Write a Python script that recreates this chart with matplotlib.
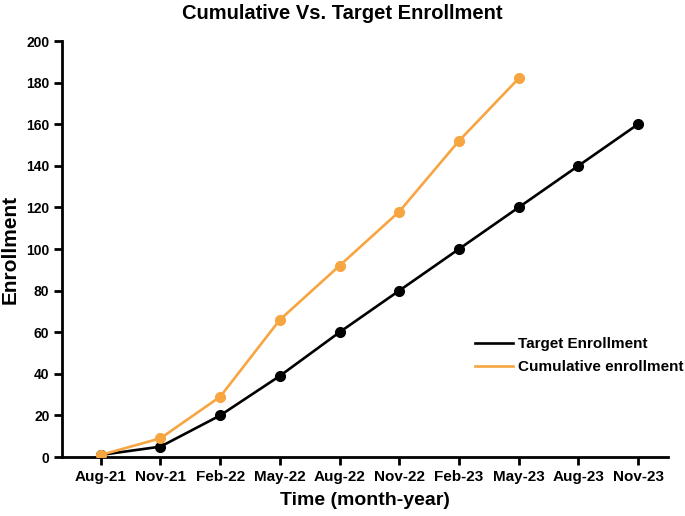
import matplotlib.pyplot as plt

plt.rcParams['font.family'] = ['Liberation Sans', 'DejaVu Sans']
plt.rcParams['font.weight'] = 'bold'

months = ['Aug-21', 'Nov-21', 'Feb-22', 'May-22', 'Aug-22',
          'Nov-22', 'Feb-23', 'May-23', 'Aug-23', 'Nov-23']
target = [1, 5, 20, 39, 60, 80, 100, 120, 140, 160]
cumulative = [1, 9, 29, 66, 92, 118, 152, 182]

fig = plt.figure(figsize=(6.85, 5.16), dpi=100)
ax = fig.add_axes([0.0905, 0.1143, 0.8845, 0.8062])

x_t = list(range(len(target)))
x_c = list(range(len(cumulative)))
ax.plot(x_t, target, color='black', linewidth=1.9, marker='o',
        markersize=7, label='Target Enrollment', zorder=2)
ax.plot(x_c, cumulative, color='#F7A541', linewidth=1.9, marker='o',
        markersize=7, label='Cumulative enrollment', zorder=3)

ax.set_xlim(-0.65, 9.5)
ax.set_ylim(0, 200)
ax.set_yticks(range(0, 201, 20))
ax.set_xticks(range(len(months)))
ax.set_xticklabels(months, fontsize=11, fontweight='bold')
for lbl in ax.get_yticklabels():
    lbl.set_fontsize(10)
    lbl.set_fontweight('bold')

for side in ['top', 'right']:
    ax.spines[side].set_visible(False)
for side in ['left', 'bottom']:
    ax.spines[side].set_linewidth(2)
ax.tick_params(width=2, length=6, pad=3)

ax.set_xlabel('Time (month-year)', fontsize=14, fontweight='bold', labelpad=6)
ax.set_ylabel('Enrollment', fontsize=15, fontweight='bold', labelpad=5)
fig.suptitle('Cumulative Vs. Target Enrollment', fontsize=14.5,
             fontweight='bold', y=0.993)

leg = ax.legend(loc='center left', bbox_to_anchor=(0.681, 0.244), frameon=False,
                fontsize=11, handlelength=2.5, handletextpad=0.35,
                labelspacing=0.6, borderpad=0, borderaxespad=0)
for h in leg.get_lines():
    h.set_marker('')
for t in leg.get_texts():
    t.set_fontweight('bold')

fig.savefig('out.png', dpi=100)
